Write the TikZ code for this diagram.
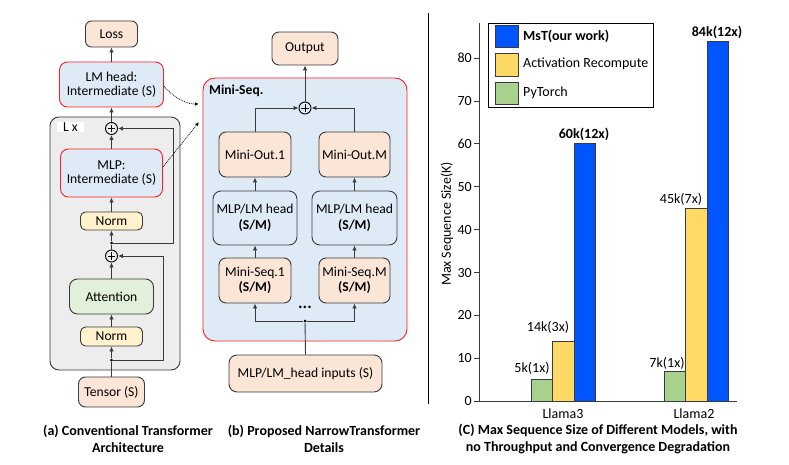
\documentclass[tikz,border=0pt]{standalone}
\usepackage{fontspec}
\setmainfont{Carlito}
\usetikzlibrary{arrows.meta,calc}
\definecolor{peach}{HTML}{FBE5D6}
\definecolor{lblue}{HTML}{DEEBF7}
\definecolor{lyellow}{HTML}{FFF2CC}
\definecolor{lgreen}{HTML}{E2F0D9}
\definecolor{lgray}{HTML}{EDEDED}
\definecolor{dk}{HTML}{3A3A3A}
\definecolor{redb}{HTML}{FF1F1F}
\definecolor{barblue}{HTML}{0055FF}
\definecolor{baryellow}{HTML}{FFD966}
\definecolor{bargreen}{HTML}{A9D18E}
\begin{document}
\begin{tikzpicture}[x=1pt,y=-1pt,
  font=\fontsize{13.6}{15.5}\selectfont,
  box/.style={draw=dk, line width=0.9pt, rounded corners=6pt, inner sep=0pt, align=center},
  redbox/.style={box, draw=redb, fill=lblue, rounded corners=8pt},
  arr/.style={draw=dk, line width=0.9pt, -{Latex[length=5pt,width=4.5pt]}},
  ln/.style={draw=dk, line width=0.9pt},
  plusnode/.style={circle, draw=black, line width=0.9pt, minimum size=12pt, inner sep=0pt,
    path picture={\draw[line width=0.9pt] ([yshift=-3.6pt]path picture bounding box.center) -- ([yshift=3.6pt]path picture bounding box.center);
                  \draw[line width=0.9pt] ([xshift=-3.6pt]path picture bounding box.center) -- ([xshift=3.6pt]path picture bounding box.center);}},
  jdot/.style={circle, fill=black, minimum size=3pt, inner sep=0pt},
  dotarr/.style={draw=black, line width=0.8pt, densely dotted, -{Latex[length=4pt,width=3.5pt,open]}},
  captext/.style={font=\fontsize{14}{17}\selectfont\bfseries, align=center},
  barbox/.style={draw=dk, line width=0.8pt},
  ticklab/.style={font=\fontsize{14}{15}\selectfont}
]
\useasboundingbox (0,0) rectangle (789,465);
\fill[white] (0,0) rectangle (789,465);

% ---------------- (a) ----------------
\node[box, fill=lgray, rounded corners=9pt, minimum width=130, minimum height=253] (lx) at (115,243.5) {};
\node[fill=white, minimum width=27, minimum height=10, inner sep=0pt] (lxl) at (70.5,127) {L x};
\node[box, fill=peach, minimum width=52, minimum height=26] (loss) at (111.5,34) {Loss};
\node[redbox, minimum width=104, minimum height=45] (lmhead) at (111.5,84.5) {LM head:\\[-1pt]Intermediate (S)};
\node[plusnode] (plus1) at (111.5,128.5) {};
\node[redbox, minimum width=102, minimum height=48] (mlp) at (111.5,173) {MLP:\\[-1pt]Intermediate (S)};
\node[box, fill=lyellow, rounded corners=5pt, minimum width=62, minimum height=18] (norm1) at (111.5,221) {Norm};
\node[plusnode] (plus2) at (111.5,256) {};
\node[box, fill=lgreen, rounded corners=8pt, minimum width=84, minimum height=35] (attn) at (111.5,296.5) {Attention};
\node[box, fill=lyellow, rounded corners=5pt, minimum width=62, minimum height=19] (norm2) at (111.5,336.5) {Norm};
\node[box, fill=peach, rounded corners=7pt, minimum width=66, minimum height=30] (tensor) at (111.5,392) {Tensor (S)};

\node[jdot] (d1) at (111.5,360) {};
\node[jdot] (d2) at (111.5,243) {};
\coordinate (r1) at (163,360);
\coordinate (r2) at (173,243);

\draw[ln] (tensor.north) -- (d1);
\draw[arr] (d1) -- (norm2.south);
\draw[arr] (norm2) -- (attn);
\draw[arr] (attn) -- (plus2);
\draw[ln] (plus2) -- (d2);
\draw[arr] (d2) -- (norm1);
\draw[arr] (norm1) -- (mlp);
\draw[arr] (mlp) -- (plus1);
\draw[arr] (plus1) -- (lmhead);
\draw[arr] (lmhead) -- (loss);
\draw[arr] (d1) -- (r1) |- (plus2.east);
\draw[arr] (d2) -- (r2) |- (plus1.east);

% dotted links
\coordinate (t1) at (199,104);
\coordinate (t2) at (199,122);
\draw[dotarr] ($(lmhead.east)+(0,2)$) .. controls (178,101) and (188,104) .. (t1);
\draw[dotarr] ($(mlp.east)+(0,-6)$) -- (t2);

\node[captext] (capa) at (128,438.5) {(a) Conventional Transformer\\Architecture};

% ---------------- (b) ----------------
\node[redbox, rounded corners=12pt, minimum width=204, minimum height=263] (ms) at (305,209.5) {};
\node[anchor=west, font=\fontsize{13.6}{15}\selectfont\bfseries, inner sep=0pt] (mslab) at (209,91) {Mini-Seq.};
\node[box, fill=peach, rounded corners=7pt, minimum width=66, minimum height=33] (out) at (305,48.5) {Output};
\node[plusnode] (plus3) at (305,108) {};
\node[box, fill=peach, rounded corners=7pt, minimum width=72, minimum height=45] (mo1) at (255,154.5) {Mini-Out.1};
\node[box, fill=peach, rounded corners=7pt, minimum width=71, minimum height=45] (moM) at (354.5,154.5) {Mini-Out.M};
\node[box, fill=lblue, rounded corners=8pt, minimum width=84, minimum height=54] (ml1) at (255,218) {MLP/LM head\\\textbf{(S/M)}};
\node[box, fill=lblue, rounded corners=8pt, minimum width=85, minimum height=54] (mlM) at (354.5,218) {MLP/LM head\\\textbf{(S/M)}};
\node[box, fill=peach, rounded corners=7pt, minimum width=72, minimum height=45] (ms1) at (255,280.5) {Mini-Seq.1\\\textbf{(S/M)}};
\node[box, fill=peach, rounded corners=7pt, minimum width=71, minimum height=45] (msM) at (354.5,280.5) {Mini-Seq.M\\\textbf{(S/M)}};
\node[anchor=base, inner sep=0pt, font=\fontsize{17}{18}\selectfont\bfseries] (dots) at (305,308) {...};
\node[box, fill=peach, rounded corners=8pt, minimum width=153, minimum height=37] (inp) at (305.5,373.5) {MLP/LM\_head inputs (S)};
\node[jdot] (d3) at (305,321) {};

\draw[ln] (inp.north) -- (d3);
\draw[arr] (d3) -| (ms1.south);
\draw[arr] (d3) -| (msM.south);
\draw[arr] (ms1) -- (ml1);
\draw[arr] (msM) -- (mlM);
\draw[arr] (ml1) -- (mo1);
\draw[arr] (mlM) -- (moM);
\draw[arr] (mo1.north) |- (plus3.west);
\draw[arr] (moM.north) |- (plus3.east);
\draw[arr] (plus3) -- (out);

\node[captext] (capb) at (324,438.5) {(b) Proposed NarrowTransformer\\Details};

% separator
\draw[line width=1pt, black] (428,13) -- (428,404);

% ---------------- (c) chart ----------------
\def\yz{401.3}
\def\ys{4.29}
\draw[line width=0.9pt, dk] (479,\yz) -- (737,\yz);
\draw[line width=0.9pt, dk] (479,\yz) -- (479,23);
\foreach \v in {0,10,...,80} {
  \draw[line width=0.8pt, dk] (474,{\yz-\ys*\v}) -- (479,{\yz-\ys*\v});
  \node[ticklab, anchor=east, inner sep=0pt] at (472,{\yz-\ys*\v}) {\v};
}
% Llama3
\draw[barbox, fill=bargreen] (531,\yz) rectangle (552,{\yz-\ys*5});
\draw[barbox, fill=baryellow] (552,\yz) rectangle (574,{\yz-\ys*14});
\draw[barbox, fill=barblue] (574,\yz) rectangle (595,{\yz-\ys*60});
% Llama2
\draw[barbox, fill=bargreen] (664,\yz) rectangle (685,{\yz-\ys*7});
\draw[barbox, fill=baryellow] (685,\yz) rectangle (707,{\yz-\ys*45});
\draw[barbox, fill=barblue] (707,\yz) rectangle (728,{\yz-\ys*84});

\node[ticklab] at (532,368) {5k(1x)};
\node[ticklab] at (548,327) {14k(3x)};
\node[ticklab, font=\fontsize{14}{15}\selectfont\bfseries] at (584,134) {60k(12x)};
\node[ticklab] at (667,363) {7k(1x)};
\node[ticklab] at (681,199) {45k(7x)};
\node[ticklab, font=\fontsize{14}{15}\selectfont\bfseries] at (717,32) {84k(12x)};
\node[ticklab] at (563,414) {Llama3};
\node[ticklab] at (694,414) {Llama2};
\node[ticklab, rotate=90] at (447,224) {Max Sequence Size(K)};

% legend
\draw[line width=0.9pt, black] (488,23) rectangle (653,107);
\draw[barbox, fill=barblue] (495,25) rectangle (518,47);
\draw[barbox, fill=baryellow] (495,53) rectangle (518,76);
\draw[barbox, fill=bargreen] (495,82) rectangle (518,104);
\node[ticklab, anchor=west, inner sep=0pt, font=\fontsize{14}{15}\selectfont\bfseries] at (523,36) {MsT(our work)};
\node[ticklab, anchor=west, inner sep=0pt] at (523,64) {Activation Recompute};
\node[ticklab, anchor=west, inner sep=0pt] at (523,93) {PyTorch};

\node[captext] (capc) at (598,438.5) {(C) Max Sequence Size of Different Models, with\\no Throughput and Convergence Degradation};
\end{tikzpicture}
\end{document}
